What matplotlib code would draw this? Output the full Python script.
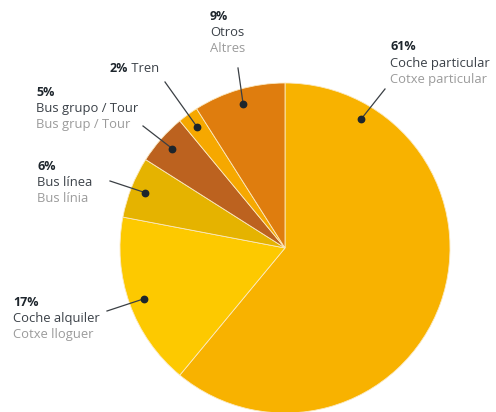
import matplotlib
matplotlib.use("Agg")
import matplotlib.pyplot as plt
import numpy as np

# data
categories_es = ["Coche particular", "Coche alquiler", "Bus línea", "Bus grupo / Tour", "Tren", "Otros"]
categories_ca = ["Cotxe particular", "Cotxe lloguer", "Bus línia", "Bus grup / Tour", "", "Altres"]
values = [61, 17, 6, 5, 2, 9]
colors = ["#F8B200", "#FDC900", "#E5B300", "#BC621F", "#F6A800", "#DF7D0E"]

W, H = 496, 412
CX, CY, R = 285, 248, 165

def px(x, y):
    return ((x - CX) / R, (CY - y) / R)

fig = plt.figure(figsize=(W / 100, H / 100), dpi=100)
ax = fig.add_axes([0, 0, 1, 1])
wedges, _ = ax.pie(values, colors=colors, startangle=90, counterclock=False,
                   radius=1, wedgeprops=dict(edgecolor="#fbe9c0", linewidth=0.6))
ax.set_xlim(-CX / R, (W - CX) / R)
ax.set_ylim(-(H - CY) / R, CY / R)
ax.set_aspect("equal")
ax.axis("off")

# label layout (pixel anchors)
text_pos = [(390, 47), (13, 302), (37, 166), (36, 92), (110, 68), (210, 16)]
line_start = [(385, 89), (107, 311), (110, 181), (143, 126), (165, 82), (238, 68)]
dot_angle_override = {0: 90 - 30.6}

fam = ["Open Sans", "DejaVu Sans"]
fs = 9.4
lh = 16.3
dark = "#3b4148"
gray = "#9b9b9b"
bold = "#1d252c"

for i, w in enumerate(wedges):
    ang = dot_angle_override.get(i, (w.theta1 + w.theta2) / 2)
    rr = 0.91
    dx, dy = rr * np.cos(np.radians(ang)), rr * np.sin(np.radians(ang))
    sx, sy = px(*line_start[i])
    ax.plot([sx, dx], [sy, dy], color="#3a3f44", lw=0.9, zorder=5)
    ax.plot([dx], [dy], "o", ms=4.6, color="#1d252c", zorder=6)
    tx, ty = text_pos[i]
    if categories_ca[i] == "":
        t = ax.text(*px(tx, ty), f"{values[i]}%", fontsize=fs - 0.4, fontweight="bold",
                    color=bold, va="center", ha="left", family=fam)
        ax.annotate(" " + categories_es[i], xycoords=t, xy=(1, 0.5), va="center",
                    ha="left", fontsize=fs, color=dark, family=fam)
    else:
        ax.text(*px(tx, ty), f"{values[i]}%", fontsize=fs - 0.4, fontweight="bold",
                color=bold, va="center", ha="left", family=fam)
        ax.text(*px(tx, ty + lh), categories_es[i], fontsize=fs, color=dark,
                va="center", ha="left", family=fam)
        ax.text(*px(tx, ty + 2 * lh), categories_ca[i], fontsize=fs, color=gray,
                va="center", ha="left", family=fam)

fig.savefig("out.png", dpi=100)
